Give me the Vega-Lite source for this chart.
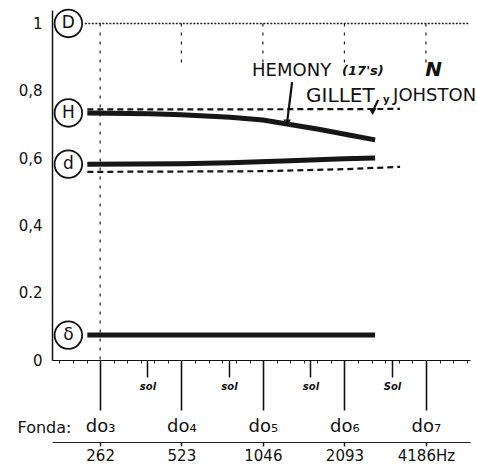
{
  "$schema": "https://vega.github.io/schema/vega-lite/v6.json",
  "width": 418,
  "height": 350,
  "autosize": {"type": "none"},
  "padding": {"left": 52, "top": 10, "right": 7, "bottom": 111},
  "background": "white",
  "config": {"view": {"stroke": null}, "font": "DejaVu Sans"},
  "datasets": {
    "curves": [
      {"maker": "Hemony", "partial": "H", "f": 235, "v": 0.734},
      {"maker": "Hemony", "partial": "H", "f": 400, "v": 0.732},
      {"maker": "Hemony", "partial": "H", "f": 523, "v": 0.729},
      {"maker": "Hemony", "partial": "H", "f": 792, "v": 0.721},
      {"maker": "Hemony", "partial": "H", "f": 1046, "v": 0.713},
      {"maker": "Hemony", "partial": "H", "f": 1318, "v": 0.7},
      {"maker": "Hemony", "partial": "H", "f": 1700, "v": 0.685},
      {"maker": "Hemony", "partial": "H", "f": 2200, "v": 0.668},
      {"maker": "Hemony", "partial": "H", "f": 2717, "v": 0.654},
      {"maker": "Hemony", "partial": "d", "f": 235, "v": 0.582},
      {"maker": "Hemony", "partial": "d", "f": 523, "v": 0.583},
      {"maker": "Hemony", "partial": "d", "f": 792, "v": 0.586},
      {"maker": "Hemony", "partial": "d", "f": 1318, "v": 0.592},
      {"maker": "Hemony", "partial": "d", "f": 2093, "v": 0.598},
      {"maker": "Hemony", "partial": "d", "f": 2717, "v": 0.6},
      {"maker": "Hemony", "partial": "δ", "f": 235, "v": 0.074},
      {"maker": "Hemony", "partial": "δ", "f": 1046, "v": 0.074},
      {"maker": "Hemony", "partial": "δ", "f": 2717, "v": 0.074},
      {"maker": "Gillet y Johston", "partial": "H", "f": 235, "v": 0.745},
      {"maker": "Gillet y Johston", "partial": "H", "f": 1046, "v": 0.745},
      {"maker": "Gillet y Johston", "partial": "H", "f": 3360, "v": 0.746},
      {"maker": "Gillet y Johston", "partial": "d", "f": 235, "v": 0.559},
      {"maker": "Gillet y Johston", "partial": "d", "f": 1046, "v": 0.561},
      {"maker": "Gillet y Johston", "partial": "d", "f": 2093, "v": 0.567},
      {"maker": "Gillet y Johston", "partial": "d", "f": 3360, "v": 0.574}
    ],
    "reference": [
      {"partial": "D", "f": 230, "v": 1},
      {"partial": "D", "f": 6000, "v": 1}
    ],
    "guides": [
      {"note": "do3", "f": 262, "top": 1, "bottom": 0},
      {"note": "do4", "f": 523, "top": 1, "bottom": 0.88},
      {"note": "do5", "f": 1046, "top": 1, "bottom": 0.88},
      {"note": "do6", "f": 2093, "top": 1, "bottom": 0.88},
      {"note": "do7", "f": 4186, "top": 1, "bottom": 0.88}
    ],
    "partials": [
      {"partial": "D", "v": 1},
      {"partial": "H", "v": 0.734},
      {"partial": "d", "v": 0.582},
      {"partial": "δ", "v": 0.074}
    ],
    "labels": [
      {"text": "HEMONY", "style": "big", "f": 954, "v": 0.859},
      {"text": "GILLET", "style": "bigger", "f": 1511, "v": 0.785},
      {"text": "y", "style": "small", "f": 2908, "v": 0.773},
      {"text": "JOHSTON", "style": "big", "f": 3166, "v": 0.785},
      {"text": "(17's)", "style": "note", "f": 2052, "v": 0.859},
      {"text": "N", "style": "mark", "f": 4158, "v": 0.862}
    ],
    "arrows": [
      {"f": 1341, "v": 0.826, "f2": 1285, "v2": 0.705},
      {"f": 2788, "v": 0.773, "f2": 2660, "v2": 0.738}
    ]
  },
  "resolve": {"axis": {"x": "independent"}},
  "layer": [
    {
      "data": {"name": "guides"},
      "mark": {"type": "rule", "strokeDash": [3, 6], "strokeWidth": 1.2, "color": "#222"},
      "encoding": {
        "x": {
          "field": "f", "type": "quantitative",
          "scale": {"type": "log", "base": 2, "domain": [174, 6090], "nice": false},
          "axis": {
            "orient": "bottom",
            "values": [262, 523, 1046, 2093, 4186],
            "labelExpr": "datum.value==262?'do₃':datum.value==523?'do₄':datum.value==1046?'do₅':datum.value==2093?'do₆':'do₇'",
            "tickSize": 50, "tickWidth": 1.6, "tickColor": "#111",
            "domainColor": "#111", "domainWidth": 1.2,
            "labelFontSize": 18, "labelFont": "DejaVu Sans", "labelColor": "#111",
            "labelPadding": 7, "labelFlush": false, "labelOverlap": false, "labelBound": false,
            "grid": false,
            "title": "Fonda:", "titleX": -35, "titleY": 67, "titleAlign": "left", "titleBaseline": "middle",
            "titleFontSize": 16, "titleFontWeight": "normal", "titleFont": "DejaVu Sans", "titleColor": "#111", "titleAngle": 0
          }
        },
        "y": {
          "field": "top", "type": "quantitative",
          "scale": {"domain": [0, 1.04], "nice": false, "zero": false},
          "axis": {
            "values": [0, 0.2, 0.4, 0.6, 0.8, 1],
            "labelExpr": "datum.value==1?'1':datum.value==0?'0':datum.value==0.2?'0.2':replace(format(datum.value,'.1f'),'.',',')",
            "ticks": false, "domainColor": "#111", "domainWidth": 1.5,
            "labelPadding": 10, "labelFontSize": 15, "labelColor": "#111", "labelFont": "DejaVu Sans",
            "grid": false, "title": null
          }
        },
        "y2": {"field": "bottom"}
      }
    },
    {
      "data": {"name": "curves"},
      "transform": [{"filter": "datum.maker == 'Hemony'"}],
      "mark": {"type": "line", "strokeWidth": 5, "color": "#161616", "strokeCap": "butt"},
      "encoding": {
        "x": {
          "field": "f", "type": "quantitative",
          "scale": {"type": "log", "base": 2, "domain": [174, 6090], "nice": false},
          "axis": {
            "orient": "bottom",
            "values": [392, 784, 1568, 3136],
            "labelExpr": "datum.value>3000?'Sol':'sol'",
            "tickSize": 17, "tickWidth": 1.5, "tickColor": "#111",
            "domain": false, "labelFontSize": 10, "labelFontStyle": "italic", "labelFontWeight": "bold",
            "labelColor": "#111", "labelPadding": 4, "labelOverlap": false, "labelFlush": false,
            "grid": false, "title": null
          }
        },
        "y": {"field": "v", "type": "quantitative", "title": null},
        "detail": {"field": "partial"}
      }
    },
    {
      "data": {"name": "curves"},
      "transform": [{"filter": "datum.maker != 'Hemony'"}],
      "mark": {"type": "line", "strokeWidth": 2.2, "strokeDash": [6, 4], "color": "#161616"},
      "encoding": {
        "x": {
          "field": "f", "type": "quantitative",
          "scale": {"type": "log", "base": 2, "domain": [174, 6090], "nice": false},
          "axis": {
            "orient": "bottom",
            "values": [185.3, 208, 233.4, 294.1, 330.1, 370.5, 415.9, 466.8, 588.2, 660.2, 741, 831.8, 933.6, 1176.4, 1320.4, 1482, 1663.6, 1867.2, 2352.8, 2640.8, 2964, 3327, 3734, 4706, 5282, 5929],
            "tickSize": 3, "tickWidth": 1, "tickColor": "#222",
            "labels": false, "domain": false, "grid": false, "title": null
          }
        },
        "y": {"field": "v", "type": "quantitative", "title": null},
        "detail": {"field": "partial"}
      }
    },
    {
      "data": {"name": "reference"},
      "mark": {"type": "line", "strokeWidth": 1.4, "strokeDash": [2, 1.5], "color": "#222"},
      "encoding": {
        "x": {
          "field": "f", "type": "quantitative",
          "scale": {"type": "log", "base": 2, "domain": [174, 6090], "nice": false},
          "axis": {
            "orient": "bottom", "offset": 82,
            "values": [262, 523, 1046, 2093, 4186],
            "labelExpr": "datum.value>4000?'4186Hz':format(datum.value,'d')",
            "tickSize": 4, "tickWidth": 1.5, "tickColor": "#111",
            "domainColor": "#222", "domainWidth": 1.2,
            "labelFontSize": 15, "labelFont": "DejaVu Sans", "labelColor": "#111",
            "labelPadding": 2, "labelOverlap": false, "labelFlush": false, "labelBound": false,
            "grid": false, "title": null
          }
        },
        "y": {"field": "v", "type": "quantitative", "title": null}
      }
    },
    {
      "data": {"name": "partials"},
      "mark": {"type": "point", "filled": false, "size": 760, "stroke": "#111", "strokeWidth": 1.8, "opacity": 1},
      "encoding": {
        "x": {"datum": 200, "type": "quantitative", "scale": {"type": "log", "base": 2, "domain": [174, 6090], "nice": false}, "axis": null},
        "y": {"field": "v", "type": "quantitative", "title": null}
      }
    },
    {
      "data": {"name": "partials"},
      "mark": {"type": "text", "fontSize": 17, "color": "#111", "baseline": "middle", "align": "center", "font": "DejaVu Sans"},
      "encoding": {
        "x": {"datum": 200, "type": "quantitative", "scale": {"type": "log", "base": 2, "domain": [174, 6090], "nice": false}, "axis": null},
        "y": {"field": "v", "type": "quantitative", "title": null},
        "text": {"field": "partial"}
      }
    },
    {
      "data": {"name": "arrows"},
      "mark": {"type": "rule", "strokeWidth": 2.2, "color": "#111"},
      "encoding": {
        "x": {"field": "f", "type": "quantitative", "scale": {"type": "log", "base": 2, "domain": [174, 6090], "nice": false}, "axis": null},
        "y": {"field": "v", "type": "quantitative", "title": null},
        "x2": {"field": "f2"},
        "y2": {"field": "v2"}
      }
    },
    {
      "data": {"name": "arrows"},
      "mark": {"type": "point", "shape": "triangle-down", "filled": true, "size": 60, "color": "#111", "opacity": 1},
      "encoding": {
        "x": {"field": "f2", "type": "quantitative", "scale": {"type": "log", "base": 2, "domain": [174, 6090], "nice": false}, "axis": null},
        "y": {"field": "v2", "type": "quantitative", "title": null}
      }
    },
    {
      "data": {"name": "labels"},
      "transform": [{"filter": "datum.style == 'big'"}],
      "mark": {"type": "text", "align": "left", "baseline": "middle", "color": "#111", "font": "DejaVu Sans", "fontSize": 18},
      "encoding": {
        "x": {"field": "f", "type": "quantitative", "scale": {"type": "log", "base": 2, "domain": [174, 6090], "nice": false}, "axis": null},
        "y": {"field": "v", "type": "quantitative", "title": null},
        "text": {"field": "text"}
      }
    },
    {
      "data": {"name": "labels"},
      "transform": [{"filter": "datum.style == 'bigger'"}],
      "mark": {"type": "text", "align": "left", "baseline": "middle", "color": "#111", "font": "DejaVu Sans", "fontSize": 20},
      "encoding": {
        "x": {"field": "f", "type": "quantitative", "scale": {"type": "log", "base": 2, "domain": [174, 6090], "nice": false}, "axis": null},
        "y": {"field": "v", "type": "quantitative", "title": null},
        "text": {"field": "text"}
      }
    },
    {
      "data": {"name": "labels"},
      "transform": [{"filter": "datum.style == 'small'"}],
      "mark": {"type": "text", "align": "left", "baseline": "middle", "color": "#111", "font": "DejaVu Sans", "fontSize": 10, "fontWeight": "bold"},
      "encoding": {
        "x": {"field": "f", "type": "quantitative", "scale": {"type": "log", "base": 2, "domain": [174, 6090], "nice": false}, "axis": null},
        "y": {"field": "v", "type": "quantitative", "title": null},
        "text": {"field": "text"}
      }
    },
    {
      "data": {"name": "labels"},
      "transform": [{"filter": "datum.style == 'note'"}],
      "mark": {"type": "text", "align": "left", "baseline": "middle", "color": "#111", "font": "DejaVu Sans", "fontSize": 13, "fontStyle": "italic", "fontWeight": "bold"},
      "encoding": {
        "x": {"field": "f", "type": "quantitative", "scale": {"type": "log", "base": 2, "domain": [174, 6090], "nice": false}, "axis": null},
        "y": {"field": "v", "type": "quantitative", "title": null},
        "text": {"field": "text"}
      }
    },
    {
      "data": {"name": "labels"},
      "transform": [{"filter": "datum.style == 'mark'"}],
      "mark": {"type": "text", "align": "left", "baseline": "middle", "color": "#111", "font": "DejaVu Sans", "fontSize": 20, "fontStyle": "italic", "fontWeight": "bold"},
      "encoding": {
        "x": {"field": "f", "type": "quantitative", "scale": {"type": "log", "base": 2, "domain": [174, 6090], "nice": false}, "axis": null},
        "y": {"field": "v", "type": "quantitative", "title": null},
        "text": {"field": "text"}
      }
    }
  ]
}
